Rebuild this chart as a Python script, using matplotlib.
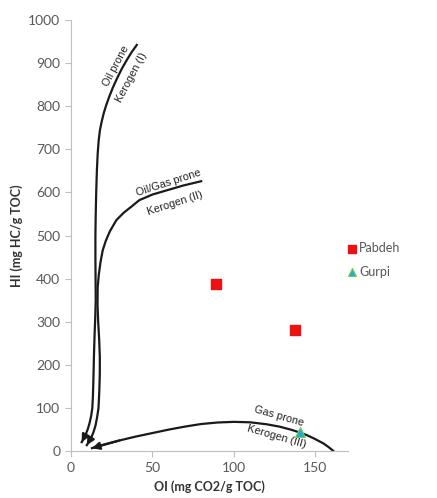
import matplotlib
matplotlib.use("Agg")
from matplotlib import pyplot as plt

plt.rcParams['font.family'] = ['Lato', 'DejaVu Sans']

#--- Sample data
pabdeh_oi = [89, 137.5]
pabdeh_hi = [387, 282]
gurpi_oi = [140.5]
gurpi_hi = [45]

#--- Kerogen evolution paths (traced from the van Krevelen template)
ker1_oi = [6.7, 8, 9.3, 10.5, 11.5, 12.5, 13.2, 13.6, 13.9, 14.2, 14.6, 15.0, 15.3, 15.2, 15.1,
           15.1, 15.3, 15.6, 16.0, 16.5, 17.1, 17.9, 19.0, 20.3, 21.8, 23.6, 25.8, 28.3, 31.2, 34.2, 37.3, 40.5]
ker1_hi = [21, 30, 40, 52, 65, 82, 100, 130, 170, 220, 270, 310, 350, 400, 450,
           500, 550, 600, 650, 690, 720, 745, 765, 785, 803, 822, 843, 864, 886, 906, 925, 942]
ker2_oi = [9.8, 11.2, 12.6, 14, 15.2, 16.2, 17, 17.5, 17.8, 17.8, 17.4, 16.8, 16.4, 16.5, 17.2,
           18.3, 19.6, 21.5, 24, 28, 32.5, 37.5, 42, 50, 59, 69, 80]
ker2_hi = [14, 22, 32, 45, 60, 80, 100, 140, 180, 220, 260, 300, 340, 380, 410,
           440, 466, 488, 510, 536, 553, 568, 582, 595, 605, 616, 626]
ker3_oi = [13, 20, 30, 40, 50, 60, 70, 80, 90, 100, 110, 120, 128, 135, 140, 145, 150, 155, 158, 161]
ker3_hi = [7, 15, 25, 34, 42, 50, 57, 63, 66.5, 68, 67, 62.5, 57, 50, 44, 37, 28, 18, 10, 1]

fig = plt.figure(figsize=(4.37, 4.98), dpi=100)
ax = fig.add_axes([0.162, 0.094, 0.634, 0.866])

#--- Curves
for xs, ys in [(ker1_oi, ker1_hi), (ker2_oi, ker2_hi), (ker3_oi, ker3_hi)]:
    ax.plot(xs, ys, color="#1a1a1a", lw=1.6, zorder=2, solid_joinstyle="round")
    ax.annotate("", xy=(xs[0], ys[0]), xytext=(xs[2], ys[2]),
                arrowprops=dict(arrowstyle="-|>", color="#1a1a1a", lw=1.6,
                                mutation_scale=11, shrinkA=0, shrinkB=0), zorder=2)

#--- Curve labels
lab = dict(fontsize=7.8, family=['Liberation Sans', 'DejaVu Sans'], color="#222222",
           ha="center", va="center", rotation_mode="anchor")
ax.text(27.5, 892, "Oil prone", rotation=62, **lab)
ax.text(37.5, 866, "Kerogen (I)", rotation=62, **lab)
ax.text(60, 622, "Oil/Gas prone", rotation=18, **lab)
ax.text(64, 574, "Kerogen (II)", rotation=18, **lab)
ax.text(128, 80, "Gas prone", rotation=-16, **lab)
ax.text(126, 34, "Kerogen (III)", rotation=-16, **lab)

#--- Samples
ax.scatter(pabdeh_oi, pabdeh_hi, marker="s", s=55, color="#ee1111", label="Pabdeh", zorder=3)
ax.scatter(gurpi_oi, gurpi_hi, marker="^", s=50, color="#22aadd", edgecolors="#77cc44",
           linewidths=0.8, label="Gurpi", zorder=3)

ax.set_xlim(0, 170)
ax.set_ylim(0, 1000)
ax.set_xticks([0, 50, 100, 150])
ax.set_yticks(range(0, 1001, 100))
for s in ["top", "right"]:
    ax.spines[s].set_visible(False)
for s in ["left", "bottom"]:
    ax.spines[s].set_color("#bfbfbf")
ax.tick_params(colors="#bfbfbf", labelcolor="#595959", labelsize=10, length=4)
ax.set_xlabel("OI (mg CO2/g TOC)", fontsize=9, fontweight="bold", color="#333333", labelpad=5)
ax.set_ylabel("HI (mg HC/g TOC)", fontsize=9, fontweight="bold", color="#333333", labelpad=4)

fig.legend(loc="center left", bbox_to_anchor=(0.762, 0.478), frameon=False, fontsize=9,
           handletextpad=0.0, handlelength=1.2, labelspacing=0.9, labelcolor="#555555",
           markerscale=0.8)

fig.savefig("out.png", dpi=100)
